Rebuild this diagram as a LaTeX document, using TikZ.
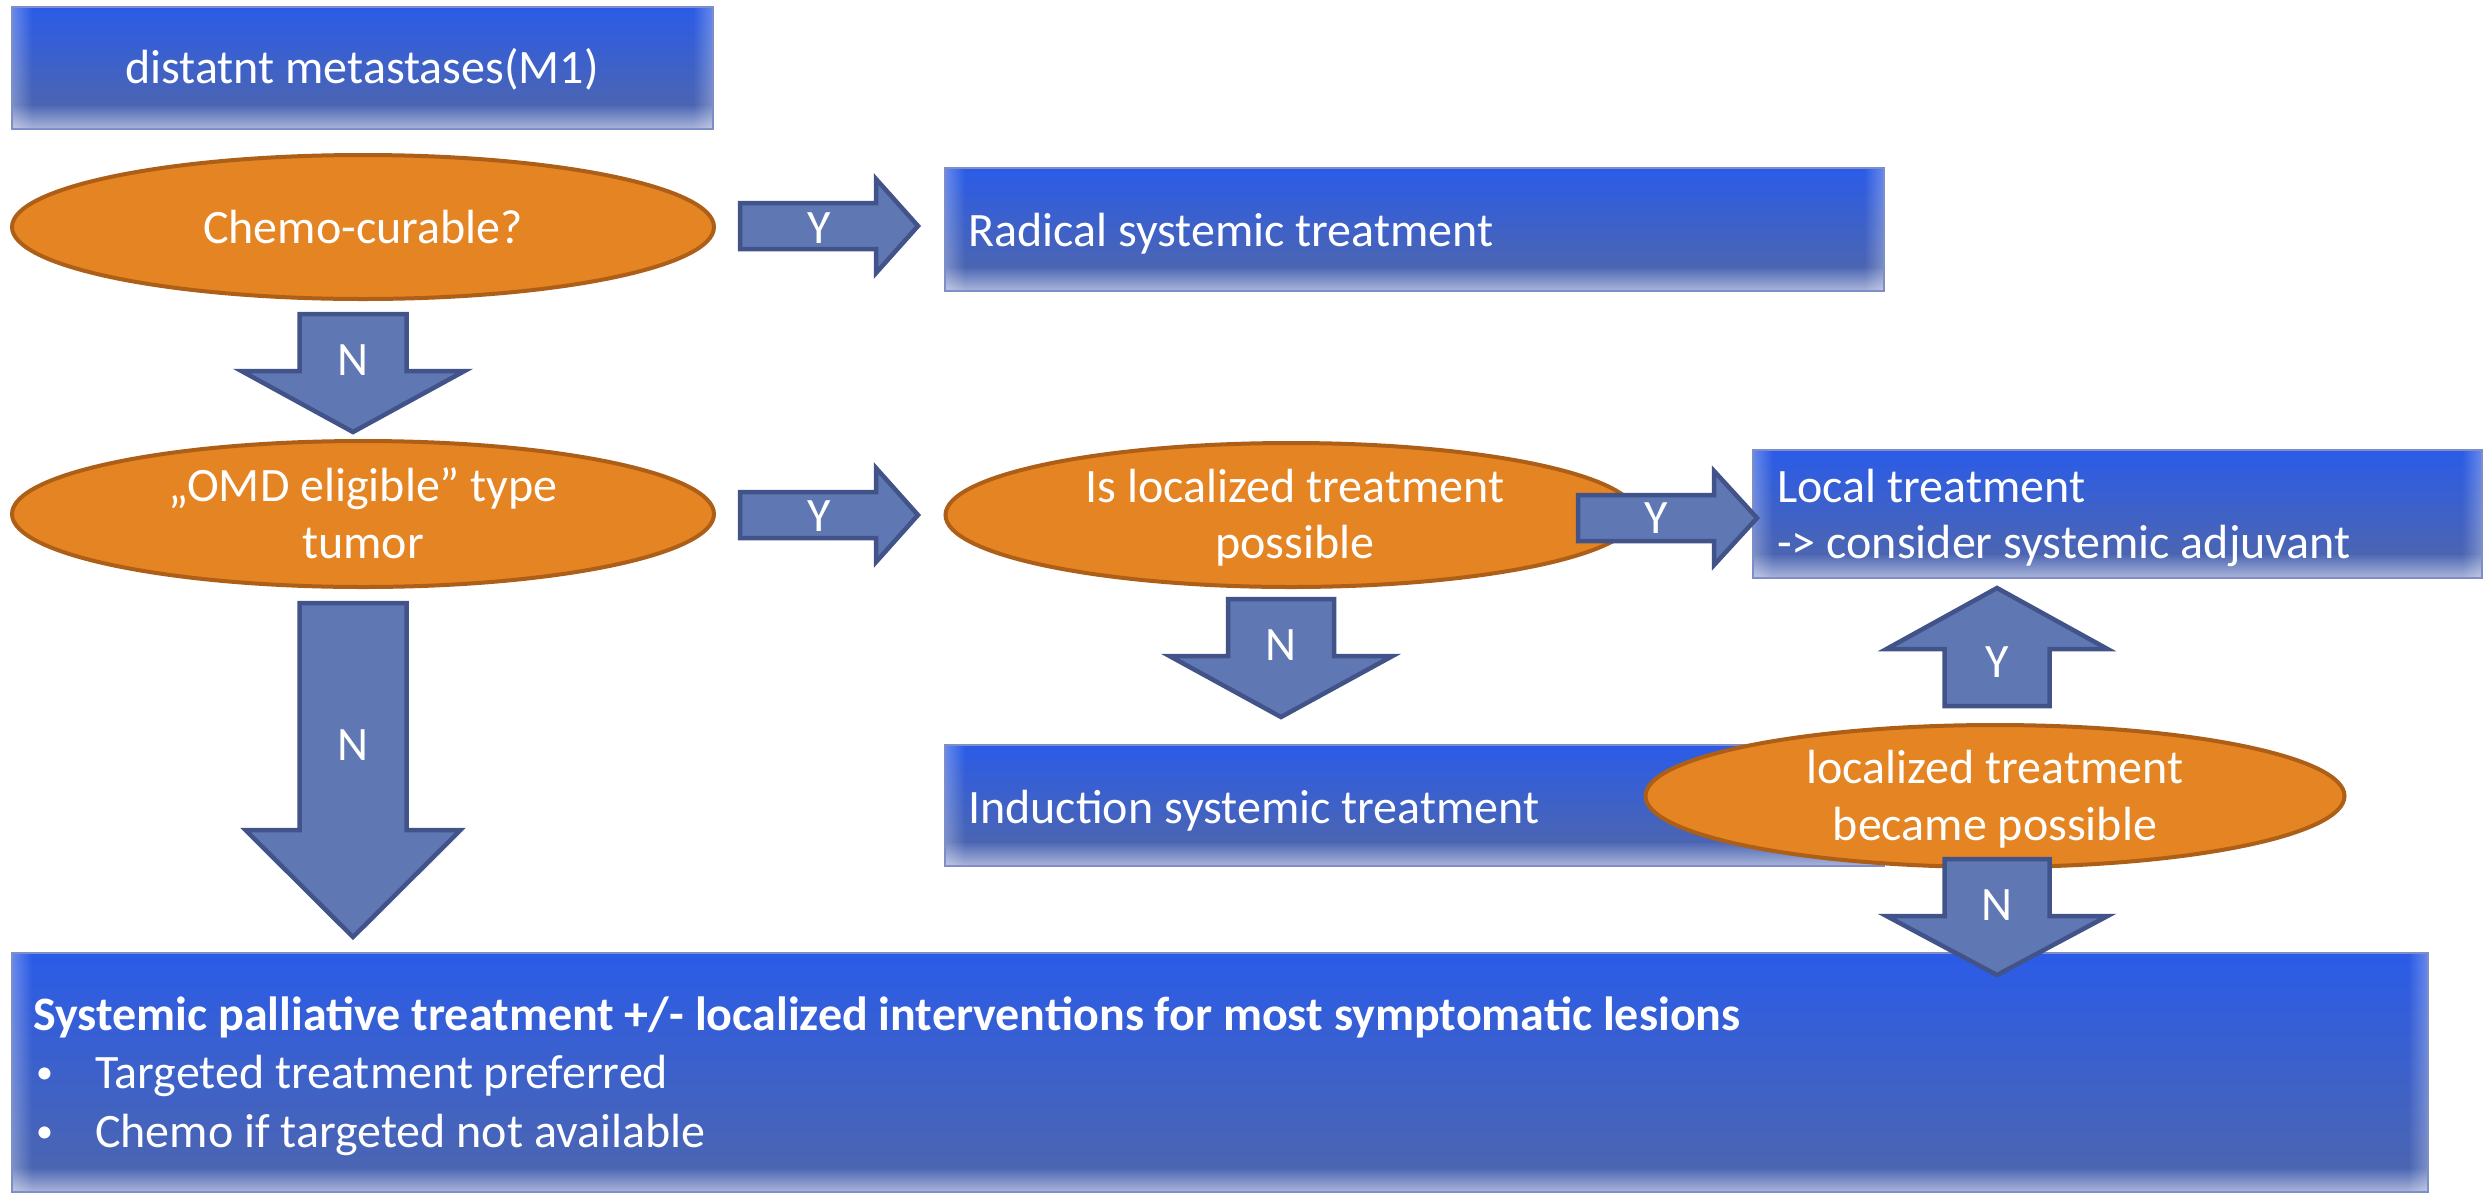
\documentclass[tikz,border=0pt]{standalone}
\usepackage{fontspec}
\setmainfont{Carlito}
\usetikzlibrary{shapes.geometric,fadings}
\definecolor{btop}{HTML}{2B5CE8}
\definecolor{bbot}{HTML}{4B65B2}
\definecolor{bfade}{HTML}{AAB6DA}
\definecolor{bline}{HTML}{7F8EC6}
\definecolor{ofill}{HTML}{E58422}
\definecolor{oline}{HTML}{AD5F18}
\definecolor{afill}{HTML}{5F77B3}
\definecolor{aline}{HTML}{42538A}
\tikzfading[name=fadeR, left color=transparent!0, right color=transparent!100]
\tikzfading[name=fadeL, left color=transparent!100, right color=transparent!0]
\newcommand\fs{\fontsize{48}{57}\selectfont}
\newcommand\bluebox[5]{%
  \path[top color=btop, bottom color=bbot] (#2,#3) rectangle (#4,#5-24);
  \path[top color=bbot, bottom color=bfade] (#2,#5-24.4) rectangle (#4,#5);
  \fill[white, opacity=0.28, path fading=fadeR] (#2,#3) rectangle (#2+20,#5);
  \fill[white, opacity=0.28, path fading=fadeL] (#4-20,#3) rectangle (#4,#5);
  \node[draw=bline, line width=2, inner sep=0, minimum width=#4-#2, minimum height=#5-#3] (#1) at ({(#2+#4)/2},{(#3+#5)/2}) {};%
}
% right arrow: x0, xhead, xtip, yc, shaft half, head half
\newcommand\rarrow[6]{%
  \draw[barrow] (#1,#4-#5) -- (#2,#4-#5) -- (#2,#4-#6) -- (#3,#4) -- (#2,#4+#6) -- (#2,#4+#5) -- (#1,#4+#5) -- cycle;}
% vertical arrow: xc, shaft half, head half, yshaftend, yhead, ytip
\newcommand\varrow[6]{%
  \draw[barrow] (#1-#2,#4) -- (#1+#2,#4) -- (#1+#2,#5) -- (#1+#3,#5) -- (#1,#6) -- (#1-#3,#5) -- (#1-#2,#5) -- cycle;}
\tikzset{
  txt/.style={text=white, font=\fs, inner sep=0},
  decis/.style={ellipse, draw=oline, line width=4, fill=ofill, inner sep=0},
  barrow/.style={draw=aline, fill=afill, line width=4.5, line join=miter}
}
\begin{document}
\begin{tikzpicture}[x=1pt,y=-1pt]
\fill[white] (0,0) rectangle (2486,1192);
\useasboundingbox (0,0) rectangle (2486,1192);
% boxes
\bluebox{m1}{12}{7}{713}{129}
\bluebox{radical}{945}{168}{1884}{291}
\bluebox{local}{1753}{450}{2482}{578}
\bluebox{induction}{945}{745}{1884}{866}
\bluebox{palliative}{12}{953}{2428}{1192}
% decisions
\node[decis, minimum width=702, minimum height=144] (chemo) at (363,227) {};
\node[decis, minimum width=702, minimum height=146] (omd) at (363,514) {};
\node[decis, minimum width=691, minimum height=144] (isloc) at (1291,515) {};
\node[decis, minimum width=699, minimum height=142] (became) at (1995,796) {};
% arrows
\rarrow{740}{876}{918}{226}{23}{47}
\rarrow{740}{876}{918}{515}{23}{47}
\rarrow{1578}{1714}{1757}{518}{23}{47}
\varrow{353}{53.5}{111.5}{314}{371}{432}
\varrow{353}{53.5}{107.5}{603}{830}{937}
\varrow{1281}{53}{111.5}{599}{656}{717}
\varrow{1997}{52.5}{110.5}{706}{649}{588}
\varrow{1997}{52.5}{110.5}{859}{916}{975}
% arrow labels
\node[txt, anchor=base] (ya) at (819,243) {Y};
\node[txt, anchor=base] (yb) at (819,531) {Y};
\node[txt, anchor=base] (yc) at (1656,533) {Y};
\node[txt, anchor=base] (yd) at (1997,677) {Y};
\node[txt, anchor=base] (na) at (353,375) {N};
\node[txt, anchor=base] (nb) at (353,760) {N};
\node[txt, anchor=base] (nc) at (1281,660) {N};
\node[txt, anchor=base] (nd) at (1997,920) {N};
% texts
\node[txt, anchor=base] (m1t) at (362,83) {distatnt metastases(M1)};
\node[txt, anchor=base] (chemot) at (363,243) {Chemo-curable?};
\node[txt, anchor=base west] (radt) at (968,246) {Radical systemic treatment};
\node[txt, anchor=base] (omdt1) at (363,501) {„OMD eligible” type};
\node[txt, anchor=base] (omdt2) at (363,558) {tumor};
\node[txt, anchor=base] (isloct1) at (1295,502) {Is localized treatment};
\node[txt, anchor=base] (isloct2) at (1295,558) {possible};
\node[txt, anchor=base west] (localt1) at (1777,502) {Local treatment};
\node[txt, anchor=base west] (localt2) at (1777,558) {-> consider systemic adjuvant};
\node[txt, anchor=base west] (indt) at (968,823) {Induction systemic treatment};
\node[txt, anchor=base] (becamet1) at (1995,783) {localized treatment};
\node[txt, anchor=base] (becamet2) at (1995,840) {became possible};
\node[txt, anchor=base west, font=\fs\bfseries] (palt) at (33,1030) {Systemic palliative treatment +/- localized interventions for most symptomatic lesions};
\node[txt, anchor=base west, font=\fontsize{34}{40}\selectfont] (b1) at (36,1083) {•};
\node[txt, anchor=base west] (b1t) at (95,1088) {Targeted treatment preferred};
\node[txt, anchor=base west, font=\fontsize{34}{40}\selectfont] (b2) at (36,1142) {•};
\node[txt, anchor=base west] (b2t) at (95,1147) {Chemo if targeted not available};
\end{tikzpicture}
\end{document}
